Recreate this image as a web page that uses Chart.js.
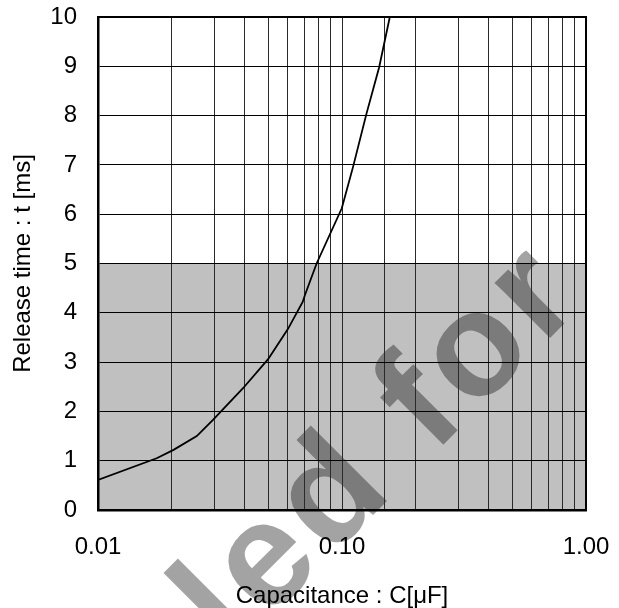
<!DOCTYPE html>
<html lang="en">
<head>
    <meta charset="UTF-8">
    <title>Release time vs Capacitance</title>
    <script src="https://cdn.jsdelivr.net/npm/chart.js@4.4.1/dist/chart.umd.min.js"></script>
    <style>
        body {
            margin: 0;
            padding: 0;
            background: #ffffff;
        }
        #wrap {
            width: 619px;
            height: 608px;
        }
    </style>
</head>
<body>
    <div id="wrap">
        <canvas id="releaseChart" width="619" height="608"></canvas>
    </div>

    <script>
        // values
        const capacitance = [0.010, 0.0174, 0.0204, 0.0254, 0.0296, 0.0393, 0.0498, 0.060, 0.069, 0.0705, 0.0787, 0.0998, 0.111, 0.126, 0.142, 0.157];
        const releaseTime = [0.61, 1.05, 1.22, 1.50, 1.83, 2.47, 3.06, 3.67, 4.22, 4.36, 5.0, 6.12, 6.96, 8.04, 8.98, 10.0];

        const xLabelledTicks = [0.01, 0.1, 1];
        const yTicks = [0, 1, 2, 3, 4, 5, 6, 7, 8, 9, 10];
        const shadedUpTo = 5;      // grey band from 0 up to this time
        const watermarkText = 'led for';

        const FONT = '"Liberation Sans", Arial, sans-serif';

        // grey band + faint watermark under the grid
        const backdrop = {
            id: 'backdrop',
            beforeDraw(chart) {
                const ctx = chart.ctx;
                const area = chart.chartArea;
                const y = chart.scales.y;

                // watermark, drawn letter by letter with a little extra spacing
                ctx.save();
                ctx.translate(232, 656);
                ctx.rotate(-Math.PI / 4);
                ctx.font = 'bold 148px ' + FONT;
                ctx.fillStyle = 'rgba(0,0,0,0.36)';
                ctx.textBaseline = 'alphabetic';
                let pos = 0;
                for (const ch of watermarkText) {
                    ctx.fillText(ch, pos, 0);
                    pos += ctx.measureText(ch).width + 7.5;
                }
                ctx.restore();

                const top = y.getPixelForValue(shadedUpTo);
                const bottom = y.getPixelForValue(0);
                ctx.save();
                ctx.fillStyle = 'rgba(0,0,0,0.247)';
                ctx.fillRect(area.left, top, area.right - area.left, bottom - top);
                ctx.restore();
            },
            afterDraw(chart) {
                // top and right frame a bit heavier than the grid
                const ctx = chart.ctx;
                const a = chart.chartArea;
                ctx.save();
                ctx.strokeStyle = '#000';
                ctx.lineWidth = 2;
                ctx.beginPath();
                ctx.moveTo(a.left, a.top);
                ctx.lineTo(a.right, a.top);
                ctx.lineTo(a.right, a.bottom);
                ctx.stroke();
                ctx.restore();
            }
        };

        const points = capacitance.map((c, i) => ({ x: c, y: releaseTime[i] }));

        new Chart(document.getElementById('releaseChart'), {
            type: 'line',
            data: {
                datasets: [{
                    data: points,
                    borderColor: '#000',
                    borderWidth: 1.8,
                    pointRadius: 0,
                    tension: 0,
                    fill: false
                }]
            },
            options: {
                responsive: false,
                animation: false,
                events: [],
                layout: { padding: { top: 17, right: 33, left: 0, bottom: 0 } },
                plugins: {
                    legend: { display: false },
                    tooltip: { enabled: false }
                },
                scales: {
                    x: {
                        type: 'logarithmic',
                        min: 0.01,
                        max: 1,
                        afterFit: s => { s.height = 98; s.paddingLeft = 0; s.paddingRight = 0; },
                        grid: { color: '#2a2a2a', lineWidth: 1, drawTicks: false },
                        border: { color: '#000', width: 2.5 },
                        ticks: {
                            autoSkip: false,
                            maxRotation: 0,
                            padding: 23,
                            color: '#000',
                            font: { family: FONT, size: 24 },
                            callback: v => xLabelledTicks.some(t => Math.abs(t - v) < 1e-9) ? Number(v).toFixed(2) : ''
                        },
                        title: {
                            display: true,
                            text: 'Capacitance : C[μF]',
                            color: '#000',
                            font: { family: FONT, size: 24, lineHeight: 1 },
                            padding: { top: 0, bottom: 0 }
                        }
                    },
                    y: {
                        min: 0,
                        max: 10,
                        afterFit: s => { s.width = 98; s.paddingTop = 0; s.paddingBottom = 0; },
                        afterBuildTicks: s => { s.ticks = yTicks.map(v => ({ value: v })); },
                        grid: { color: '#000', lineWidth: 1, drawTicks: false },
                        border: { color: '#000', width: 2.5 },
                        ticks: {
                            padding: 21,
                            color: '#000',
                            font: { family: FONT, size: 24 }
                        },
                        title: {
                            display: true,
                            text: 'Release time : t [ms]',
                            color: '#000',
                            font: { family: FONT, size: 24, lineHeight: 1 },
                            padding: { top: 11, bottom: 0 }
                        }
                    }
                }
            },
            plugins: [backdrop]
        });
    </script>
</body>
</html>
